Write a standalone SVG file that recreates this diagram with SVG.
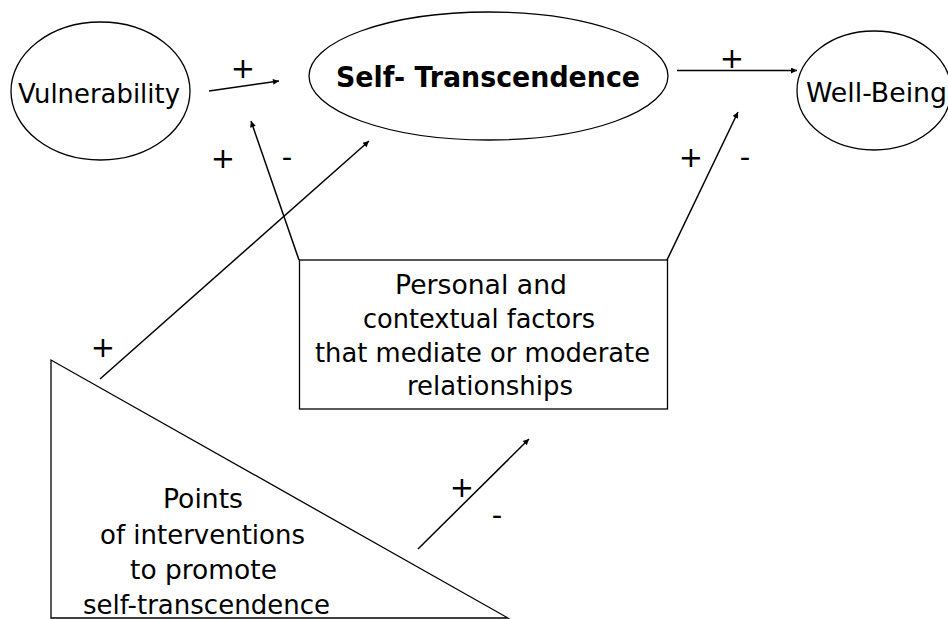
<svg xmlns="http://www.w3.org/2000/svg" width="948" height="619" viewBox="0 0 948 619">
<defs>
<marker id="ah" viewBox="0 0 10 10" refX="10" refY="5" markerWidth="8" markerHeight="6" markerUnits="userSpaceOnUse" orient="auto">
<path d="M0,0 L10,5 L0,10 z" fill="#000"/>
</marker>
<style>
.sh{fill:#fff;stroke:#000;stroke-width:1.3}
.t{font-family:"DejaVu Sans","Liberation Sans",sans-serif;font-size:27px;fill:#000}
.b{font-weight:bold;font-size:29px}
.c{stroke:#000;stroke-width:1.5;fill:none;marker-end:url(#ah)}
.s{font-family:"DejaVu Sans","Liberation Sans",sans-serif;font-size:29px;fill:#000;text-anchor:middle}
</style>
</defs>
<rect width="948" height="619" fill="#fff"/>
<g id="vulnerability">
<ellipse class="sh" cx="100.5" cy="91" rx="89.5" ry="69"/>
<text class="t" x="18" y="103" textLength="162" lengthAdjust="spacingAndGlyphs">Vulnerability</text>
</g>
<g id="self-transcendence">
<ellipse class="sh" cx="488.5" cy="76" rx="179.5" ry="64"/>
<text class="t b" x="336" y="87" textLength="304" lengthAdjust="spacingAndGlyphs">Self- Transcendence</text>
</g>
<g id="well-being">
<ellipse class="sh" cx="874" cy="90.5" rx="77" ry="59.5"/>
<text class="t" x="806" y="102" textLength="141" lengthAdjust="spacingAndGlyphs">Well-Being</text>
</g>
<g id="factors">
<rect class="sh" x="299.5" y="260" width="368" height="149"/>
<text class="t" x="395" y="294" textLength="172" lengthAdjust="spacingAndGlyphs">Personal and</text>
<text class="t" x="363" y="328" textLength="232" lengthAdjust="spacingAndGlyphs">contextual factors</text>
<text class="t" x="315" y="362" textLength="335" lengthAdjust="spacingAndGlyphs">that mediate or moderate</text>
<text class="t" x="407" y="395" textLength="166" lengthAdjust="spacingAndGlyphs">relationships</text>
</g>
<g id="interventions">
<polygon class="sh" points="51,360 51,618 508,618"/>
<text class="t" x="163" y="508" textLength="80" lengthAdjust="spacingAndGlyphs">Points</text>
<text class="t" x="100" y="544" textLength="205" lengthAdjust="spacingAndGlyphs">of interventions</text>
<text class="t" x="130" y="579" textLength="147" lengthAdjust="spacingAndGlyphs">to promote</text>
<text class="t" x="83" y="614" textLength="247" lengthAdjust="spacingAndGlyphs">self-transcendence</text>
</g>
<g id="connectors">
<line class="c" x1="209" y1="91" x2="279" y2="81"/>
<line class="c" x1="677" y1="70.5" x2="797" y2="70.5"/>
<line class="c" x1="299" y1="260" x2="251" y2="121"/>
<line class="c" x1="100" y1="379" x2="369" y2="141"/>
<line class="c" x1="667" y1="260" x2="738" y2="112"/>
<line class="c" x1="418" y1="549" x2="529" y2="439"/>
<text class="s" x="243" y="78">+</text>
<text class="s" x="732" y="68">+</text>
<text class="s" x="223" y="168">+</text>
<text class="s" x="287" y="167">-</text>
<text class="s" x="103" y="357">+</text>
<text class="s" x="691" y="167">+</text>
<text class="s" x="745" y="167">-</text>
<text class="s" x="462" y="497">+</text>
<text class="s" x="497" y="525">-</text>
</g>
</svg>
